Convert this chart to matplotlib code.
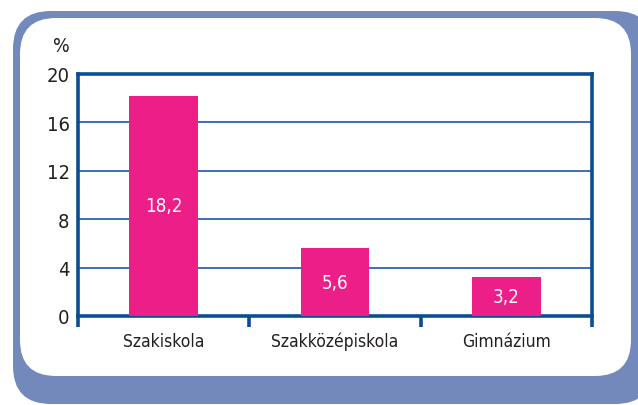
import matplotlib.pyplot as plt
from matplotlib.patches import FancyBboxPatch

# data
categories = ['Szakiskola', 'Szakközépiskola', 'Gimnázium']
values = [18.2, 5.6, 3.2]
value_labels = ['18,2', '5,6', '3,2']
y_ticks = [0, 4, 8, 12, 16, 20]

W, H = 638, 406
fig = plt.figure(figsize=(W / 100, H / 100), dpi=100)

font = dict(family='DejaVu Sans', fontstretch='condensed')
dark_blue = '#0b4d93'
grid_blue = '#2f64a6'
pink = '#ec1e87'
frame_blue = '#7389bc'
text_col = '#231f20'

# background frame in pixel coordinates
bg = fig.add_axes([0, 0, 1, 1], zorder=0)
bg.set_xlim(0, W)
bg.set_ylim(H, 0)
bg.axis('off')
bg.add_patch(FancyBboxPatch((13, 12), 640, 393, boxstyle='round,pad=0,rounding_size=38',
                            fc=frame_blue, ec='none'))
bg.add_patch(FancyBboxPatch((20, 19), 611, 358, boxstyle='round,pad=0,rounding_size=36',
                            fc='white', ec='none'))

# main chart
left, right, top, bottom = 78, 592, 75, 317
ax = fig.add_axes([left / W, (H - bottom) / H, (right - left) / W, (bottom - top) / H], zorder=1)
ax.patch.set_alpha(0)

x = range(len(categories))
bars = ax.bar(x, values, width=0.4, color=pink, zorder=3)
ax.bar_label(bars, labels=value_labels, label_type='center', color='white', fontsize=13.5, **font)

ax.set_xlim(-0.5, 2.5)
ax.set_ylim(0, 20)
ax.set_yticks(y_ticks)
ax.set_yticklabels([str(t) for t in y_ticks], fontsize=14.5, color=text_col, **font)
ax.tick_params(axis='y', length=0, pad=6)

# category labels on a common baseline
ax.set_xticks([])
for xi, name in zip(x, categories):
    ax.text(xi, -30 / 242, name, transform=ax.get_xaxis_transform(), ha='center',
            va='baseline', fontsize=12.5, color=text_col, **font)
ax.set_xticks([-0.5, 0.5, 1.5, 2.5], minor=True)
ax.tick_params(axis='x', which='minor', direction='out', length=8, width=2.6, color=dark_blue)

for t in y_ticks[1:-1]:
    ax.axhline(t, color=grid_blue, lw=1.3, zorder=1)

for s in ax.spines.values():
    s.set_color(dark_blue)
    s.set_linewidth(2.6)

fig.text(53 / W, 1 - 47 / H, '%', fontsize=14, color=text_col, va='center', **font)

fig.savefig('out.png', dpi=100)
